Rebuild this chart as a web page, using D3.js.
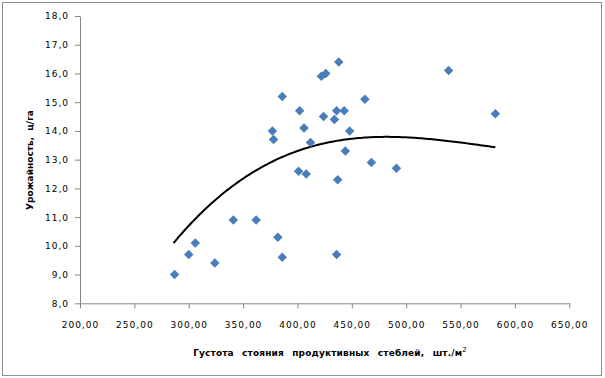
<!DOCTYPE html>
<html>
<head>
<meta charset="utf-8">
<script src="https://cdn.jsdelivr.net/npm/d3@7"></script>
<style>
  body { margin: 0; background: #fff; }
  text { font-family: "DejaVu Sans", Verdana, sans-serif; }
</style>
</head>
<body>
<div id="chart"></div>
<script>
// density of productive stems, pcs/m2
let stems = [287, 300, 306, 324, 341, 362, 382, 386, 377, 378, 386, 402, 406, 412, 401, 408,
    422, 426, 438, 424, 434, 436, 443, 448, 444, 437, 436, 462, 468, 491, 539, 582];
// yield, c/ha
let yields = [9.0, 9.7, 10.1, 9.4, 10.9, 10.9, 10.3, 9.6, 14.0, 13.7, 15.2, 14.7, 14.1, 13.6, 12.6, 12.5,
    15.9, 16.0, 16.4, 14.5, 14.4, 14.7, 14.7, 14.0, 13.3, 12.3, 9.7, 15.1, 12.9, 12.7, 16.1, 14.6];
// trendline
let trendStems = [286, 301, 320, 338, 356, 370, 389, 407, 425, 450, 467, 485, 504, 531, 559, 582];
let trendYields = [10.09, 10.73, 11.48, 12.0, 12.47, 12.81, 13.16, 13.4, 13.54, 13.72, 13.79, 13.8, 13.76, 13.68, 13.57, 13.42];
let xTicks = [200, 250, 300, 350, 400, 450, 500, 550, 600, 650];
let yTicks = [8, 9, 10, 11, 12, 13, 14, 15, 16, 17, 18];

let width = 605, height = 378;
let svg = d3.select("#chart").append("svg").attr("width", width).attr("height", height);

svg.append("rect").attr("x", 2.5).attr("y", 2.5).attr("width", 599).attr("height", 373)
    .attr("fill", "#fff").attr("stroke", "#8c8c8c").attr("stroke-width", 1);

let x = d3.scaleLinear().domain([200, 650]).range([80, 569.3]);
let y = d3.scaleLinear().domain([8, 18]).range([303.3, 16]);

let comma = f => (v => d3.format(f)(v).replace(".", ","));

let xAxis = svg.append("g").attr("transform", "translate(0,303.3)")
    .call(d3.axisBottom(x).tickValues(xTicks).tickFormat(comma(".2f")).tickSize(5).tickSizeOuter(0).tickPadding(13));
let yAxis = svg.append("g").attr("transform", "translate(80,0)")
    .call(d3.axisLeft(y).tickValues(yTicks).tickFormat(comma(".1f")).tickSize(5).tickSizeOuter(0).tickPadding(6));

[xAxis, yAxis].forEach(a => {
    a.selectAll("path, line").attr("stroke", "#868686");
    a.selectAll("text").attr("fill", "#000").attr("font-size", 9).attr("letter-spacing", 1)
        .attr("font-family", "'DejaVu Sans', Verdana, sans-serif");
});

//Least squares polynomial to smooth the read trend points
function polyFit(xs, ys, deg) {
    let n = deg + 1;
    let m = [];
    for (let i = 0; i < n; i++) {
        m.push(new Array(n + 1).fill(0));
        for (let j = 0; j < n; j++) m[i][j] = d3.sum(xs, v => Math.pow(v, i + j));
        m[i][n] = d3.sum(xs, (v, k) => ys[k] * Math.pow(v, i));
    }
    for (let c = 0; c < n; c++) {
        for (let r = c + 1; r < n; r++) {
            let f = m[r][c] / m[c][c];
            for (let k = c; k <= n; k++) m[r][k] -= f * m[c][k];
        }
    }
    let coef = new Array(n).fill(0);
    for (let r = n - 1; r >= 0; r--) {
        let s = m[r][n];
        for (let k = r + 1; k < n; k++) s -= m[r][k] * coef[k];
        coef[r] = s / m[r][r];
    }
    return v => d3.sum(coef, (c, i) => c * Math.pow(v, i));
}

let norm = v => (v - 400) / 100;
let fit = polyFit(trendStems.map(norm), trendYields, 3);
let trendXs = d3.range(d3.min(trendStems), d3.max(trendStems) + 0.5, 2);

svg.append("path").datum(trendXs)
    .attr("d", d3.line().x(d => x(d)).y(d => y(fit(norm(d)))))
    .attr("fill", "none").attr("stroke", "#000").attr("stroke-width", 2);

svg.append("g").selectAll("path").data(stems).enter().append("path")
    .attr("d", d3.symbol(d3.symbolSquare, 45))
    .attr("transform", (d, i) => `translate(${x(d)},${y(yields[i])}) rotate(45)`)
    .attr("fill", "#4a7ebb");

svg.append("text").attr("x", 330).attr("y", 355.5).attr("text-anchor", "middle")
    .attr("font-size", 9).attr("font-weight", "bold").attr("word-spacing", 5).attr("letter-spacing", 0.15)
    .text("Густота стояния продуктивных стеблей, шт./м")
    .append("tspan").attr("font-weight", "normal").attr("baseline-shift", "super").attr("font-size", 7).text("2");

svg.append("text").attr("transform", "translate(33,160) rotate(-90)").attr("text-anchor", "middle")
    .attr("font-size", 9).attr("font-weight", "bold").attr("word-spacing", 3)
    .text("Урожайность, ц/га");
</script>
</body>
</html>
